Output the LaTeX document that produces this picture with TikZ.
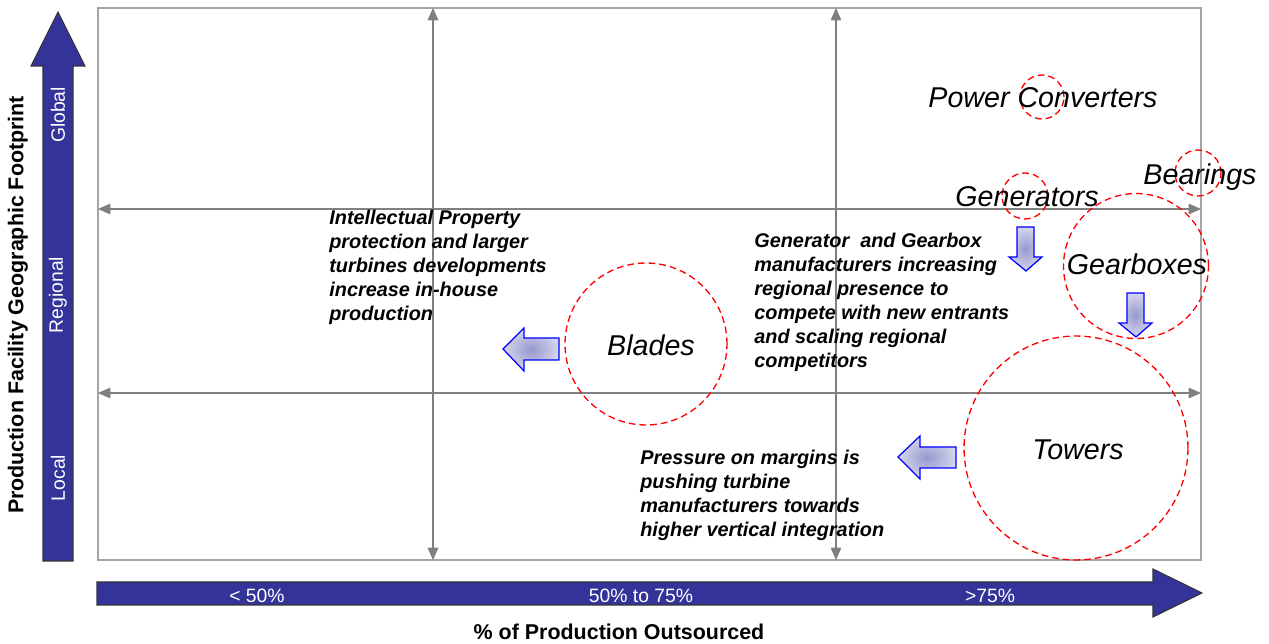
\documentclass[tikz,border=0pt]{standalone}
\usepackage{fontspec}
\setmainfont{Liberation Sans}
\usetikzlibrary{positioning,arrows.meta,shapes}

\definecolor{axisblue}{RGB}{51,51,153}
\definecolor{gridgray}{RGB}{128,128,128}
\definecolor{framegray}{RGB}{166,166,166}
\definecolor{flowfill}{RGB}{150,152,206}
\definecolor{flowedge}{RGB}{0,0,255}

\tikzset {
    style frame/.style={
        draw=framegray,
        line width=0.9pt,
    },
    style grid/.style={
        draw=gridgray,
        line width=0.75pt,
        {Triangle[length=7pt,width=6pt]}-{Triangle[length=7pt,width=6pt]},
    },
    style axis/.style={
        fill=axisblue,
        draw=black!80,
        line width=0.6pt,
    },
    style ring/.style={
        draw=red,
        circle, % Set the shape as a circle
        inner sep=0pt,
        line width=0.75pt,
        dash pattern=on 3.8pt off 2.3pt,
    },
    style part/.style={
        font=\fontsize{16.3}{19}\selectfont\itshape,
        inner sep=0pt,
        anchor=base,
    },
    style note/.style={
        font=\fontsize{11.3}{13.6}\selectfont\bfseries\itshape,
        align=left,
        anchor=north west,
        inner sep=0pt,
    },
    style flow/.style={
        draw=flowedge,
        line width=0.7pt,
        inner color=flowfill,
        outer color=flowfill!40!white,
    },
    style tick/.style={
        text=white,
        font=\fontsize{11}{13}\selectfont,
        inner sep=0pt,
    },
    style title/.style={
        font=\fontsize{12.2}{14}\selectfont\bfseries,
        inner sep=0pt,
    },
}

\begin{document}
\begin{tikzpicture}[x=0.02cm, y=-0.02cm]
\useasboundingbox (0,0) rectangle (1269,644);

% chart area and grid
\coordinate (nw) at (98,8);
\coordinate (se) at (1201,560);
\draw[style frame] (nw) rectangle (se);
\coordinate (colA top) at (433,8);
\coordinate (colA bot) at (433,560);
\coordinate (colB top) at (836,8);
\coordinate (colB bot) at (836,560);
\coordinate (rowA left) at (98,209);
\coordinate (rowA right) at (1201,209);
\coordinate (rowB left) at (98,393);
\coordinate (rowB right) at (1201,393);
\draw[style grid] (colA top) -- (colA bot);
\draw[style grid] (colB top) -- (colB bot);
\draw[style grid] (rowA left) -- (rowA right);
\draw[style grid] (rowB left) -- (rowB right);

% axes
\coordinate (yaxis) at (43,561);
\draw[style axis] (yaxis) -- ++(0,-495) -- ++(-12,0) -- ++(27,-54) -- ++(27,54) -- ++(-12,0) -- ++(0,495) -- cycle;
\coordinate (xaxis) at (97,582);
\draw[style axis] (xaxis) -- ++(1056,0) -- ++(0,-13) -- ++(49,24) -- ++(-49,24) -- ++(0,-12) -- ++(-1056,0) -- cycle;

\node[style tick, rotate=90] (global) at (58,115) {Global};
\node[style tick, rotate=90] (regional) at (58,295) {Regional};
\node[style tick, rotate=90] (local) at (58,478) {Local};
\node[style tick] (low) at (257,596) {< 50\%};
\node[style tick] (mid) at (641,596) {50\% to 75\%};
\node[style tick] (high) at (990,596) {>75\%};
\node[style title, rotate=90] (ytitle) at (18,305) {Production Facility Geographic Footprint};
\node[style title] (xtitle) at (619,632) {\% of Production Outsourced};

% components
\node[style ring, minimum size=0.88cm] (convRing) at (1042,97) {};
\node[style ring, minimum size=0.92cm] (genRing) at (1025,196) {};
\node[style ring, minimum size=0.92cm] (bearRing) at (1198,173) {};
\node[style ring, minimum size=2.9cm] (gearRing) at (1136,266) {};
\node[style ring, minimum size=3.24cm] (bladeRing) at (646,344) {};
\node[style ring, minimum size=4.48cm] (towerRing) at (1076,448) {};

\node[style part] (conv) at (1043,108) {Power Converters};
\node[style part] (gen) at (1027,207) {Generators};
\node[style part] (bear) at (1200,185) {Bearings};
\node[style part] (gear) at (1137,275) {Gearboxes};
\node[style part] (blade) at (651,356) {Blades};
\node[style part] (tower) at (1078,460) {Towers};

\node[style note] (ipNote) at (329,210) {Intellectual Property\\protection and larger\\turbines developments\\increase in-house\\production};
\node[style note] (genNote) at (754,233) {Generator~ and Gearbox\\manufacturers increasing\\regional presence to\\compete with new entrants\\and scaling regional\\competitors};
\node[style note] (marginNote) at (640,450) {Pressure on margins is\\pushing turbine\\manufacturers towards\\higher vertical integration};

% shifts
\coordinate (bladePush) at (503,349);
\draw[style flow] (bladePush) -- ++(21,-21) -- ++(0,10) -- ++(35,0) -- ++(0,22) -- ++(-35,0) -- ++(0,11) -- cycle;
\coordinate (towerPush) at (898,457);
\draw[style flow] (towerPush) -- ++(22,-21) -- ++(0,11) -- ++(36,0) -- ++(0,21) -- ++(-36,0) -- ++(0,11) -- cycle;
\coordinate (genPush) at (1026,271);
\draw[style flow] (genPush) -- ++(16,-14) -- ++(-8,0) -- ++(0,-30) -- ++(-17,0) -- ++(0,30) -- ++(-8,0) -- cycle;
\coordinate (gearPush) at (1136,337);
\draw[style flow] (gearPush) -- ++(16,-14) -- ++(-8,0) -- ++(0,-30) -- ++(-17,0) -- ++(0,30) -- ++(-8,0) -- cycle;
\end{tikzpicture}
\end{document}
